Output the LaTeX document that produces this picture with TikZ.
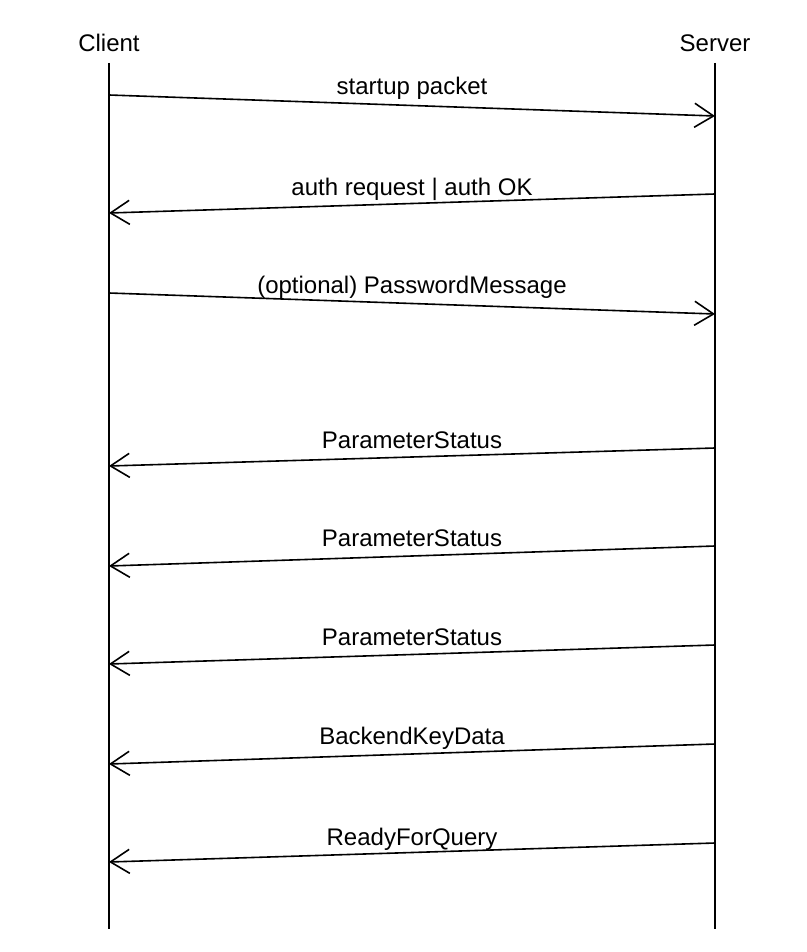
\documentclass[tikz,border=0pt]{standalone}
\usepackage{fontspec}
\setmainfont{Liberation Sans}
\usetikzlibrary{arrows.meta}
\begin{document}
\begin{tikzpicture}[x=1pt,y=-1pt,
  lbl/.style={font=\fontsize{24}{28}\selectfont, anchor=base, inner sep=0pt},
  life/.style={line width=1.8pt},
  msg/.style={line width=1.6pt, -{Straight Barb[length=19pt,width=24pt,line width=1.6pt]}}]
\useasboundingbox (0,0) rectangle (806,952);
\node[lbl] (client) at (109,52) {Client};
\node[lbl] (server) at (715,52) {Server};
\coordinate (ctop) at (109,63);
\coordinate (cbot) at (109,929);
\coordinate (stop) at (715,63);
\coordinate (sbot) at (715,929);
\draw[life] (ctop) -- (cbot);
\draw[life] (stop) -- (sbot);
% messages
\coordinate (a1) at (109,95);  \coordinate (b1) at (715,116);
\coordinate (a2) at (715,194); \coordinate (b2) at (109,213);
\coordinate (a3) at (109,293); \coordinate (b3) at (715,314);
\coordinate (a4) at (715,448); \coordinate (b4) at (109,466);
\coordinate (a5) at (715,546); \coordinate (b5) at (109,566);
\coordinate (a6) at (715,645); \coordinate (b6) at (109,664);
\coordinate (a7) at (715,744); \coordinate (b7) at (109,764);
\coordinate (a8) at (715,843); \coordinate (b8) at (109,862);
\draw[msg] (a1) -- (b1);
\draw[msg] (a2) -- (b2);
\draw[msg] (a3) -- (b3);
\draw[msg] (a4) -- (b4);
\draw[msg] (a5) -- (b5);
\draw[msg] (a6) -- (b6);
\draw[msg] (a7) -- (b7);
\draw[msg] (a8) -- (b8);
\node[lbl] (l1) at (412,95) {startup packet};
\node[lbl] (l2) at (412,195) {auth request | auth OK};
\node[lbl] (l3) at (412,293) {(optional) PasswordMessage};
\node[lbl] (l4) at (412,448) {ParameterStatus};
\node[lbl] (l5) at (412,546) {ParameterStatus};
\node[lbl] (l6) at (412,645) {ParameterStatus};
\node[lbl] (l7) at (412,744) {BackendKeyData};
\node[lbl] (l8) at (412,845) {ReadyForQuery};
\end{tikzpicture}
\end{document}
